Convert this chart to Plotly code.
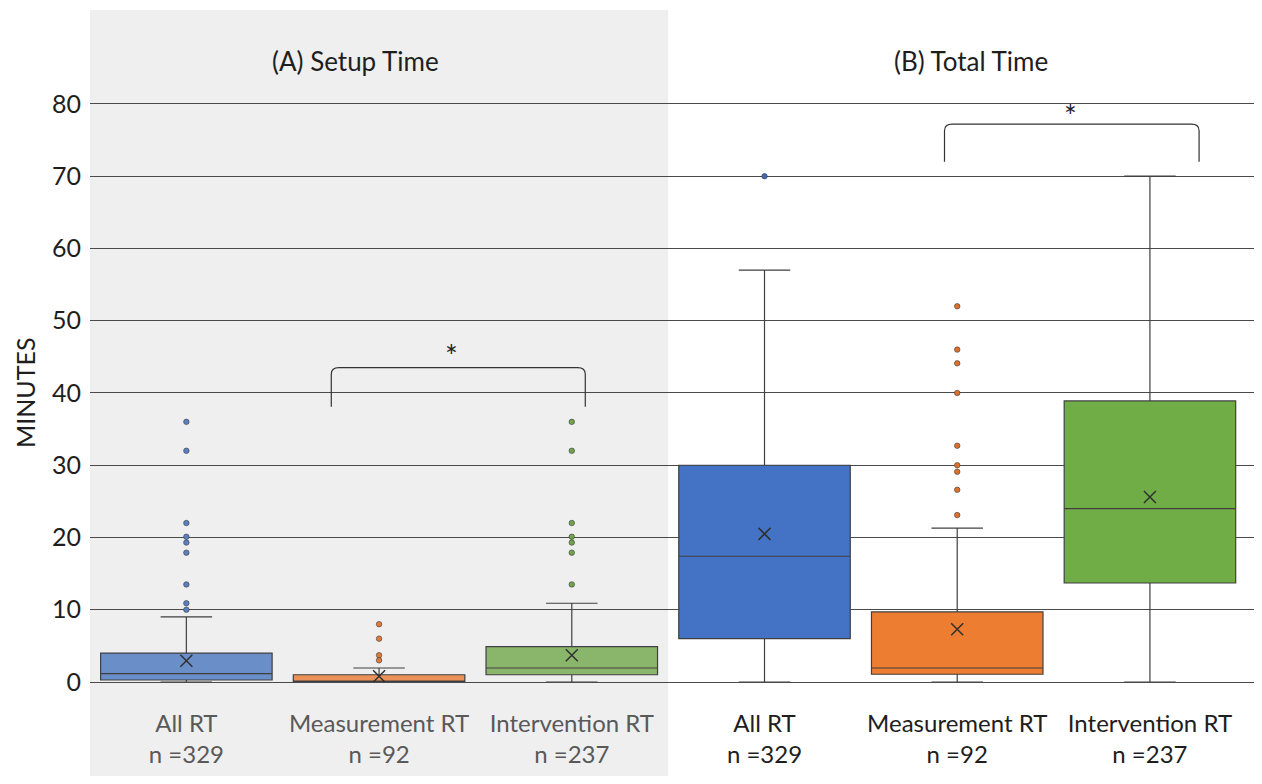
import plotly.graph_objects as go

# ---------------- data ----------------
positions = [0, 1, 2, 3, 4, 5]
groups = ["All RT", "Measurement RT", "Intervention RT"] * 2
n_labels = ["n =329", "n =92", "n =237"] * 2
panels = ["(A) Setup Time", "(B) Total Time"]

q1 = [0.28, 0.0, 1.0, 6.0, 1.07, 13.7]
median = [1.15, 0.05, 1.94, 17.4, 1.94, 24.0]
q3 = [4.0, 1.0, 4.9, 30.0, 9.7, 38.9]
lower_fence = [0.0, 0.0, 0.0, 0.0, 0.0, 0.0]
upper_fence = [9.0, 1.94, 10.9, 57.0, 21.3, 70.0]
means = [2.95, 0.8, 3.7, 20.5, 7.3, 25.6]

outliers = [
    [36, 32, 22, 20.1, 19.3, 17.9, 13.5, 10.9, 10.0],
    [8.0, 6.0, 3.7, 3.0],
    [36, 32, 22, 20.1, 19.3, 17.9, 13.5],
    [70],
    [52.0, 46.0, 44.1, 40.0, 32.7, 30.0, 29.1, 26.6, 23.1],
    [],
]

fill_colors = ["#6a8ec8", "#ea9257", "#8ab66c", "#4472c4", "#ed7d31", "#70ad47"]
point_colors = ["#5b7fbf", "#e07a3a", "#6fa34c", "#3d68b5", "#e07028", "#62a03c"]

tick_values = [0, 10, 20, 30, 40, 50, 60, 70, 80]

# significance brackets: (x_left, x_right, y_top, y_bottom, star_x, star_y)
brackets = [(0.752, 2.07, 43.5, 38.1, 1.375, 45.2),
            (3.934, 5.255, 77.2, 72.0, 4.59, 78.5)]

FONT = "Lato, 'Open Sans', sans-serif"
EDGE = "#404040"

fig = go.Figure()

for i, p in enumerate(positions):
    fig.add_trace(go.Box(
        x=[p], q1=[q1[i]], median=[median[i]], q3=[q3[i]],
        lowerfence=[lower_fence[i]], upperfence=[upper_fence[i]],
        width=0.89, whiskerwidth=0.3,
        fillcolor=fill_colors[i],
        line=dict(color=EDGE, width=1.2),
        boxpoints=False, showlegend=False, hoverinfo="skip",
    ))
    if outliers[i]:
        fig.add_trace(go.Scatter(
            x=[p] * len(outliers[i]), y=outliers[i], mode="markers",
            marker=dict(size=5.5, color=point_colors[i],
                        line=dict(color="#3a3a3a", width=0.6)),
            showlegend=False, hoverinfo="skip",
        ))
    fig.add_trace(go.Scatter(
        x=[p], y=[means[i]], mode="markers",
        marker=dict(symbol="x-thin", size=12,
                    line=dict(color="#303030", width=1.5)),
        showlegend=False, hoverinfo="skip",
    ))

# tick labels: left panel grey, right panel near-black
ticktext = []
for i, p in enumerate(positions):
    col = "#595959" if p < 3 else "#1e1e1e"
    ticktext.append(f"<span style='color:{col}'>{groups[i]}<br>{n_labels[i]}</span>")

W, H = 1246, 768
ML, MR, MT, MB = 82, 0, 2, 94
plot_w = W - ML - MR
plot_h = H - MT - MB

shapes = [
    dict(type="rect", xref="x", yref="paper", x0=-0.5, x1=2.5,
         y0=-MB / plot_h, y1=1.0,
         fillcolor="#efefef", line=dict(width=0), layer="below"),
]
annotations = []
for (xl, xr, yt, yb, sx, sy) in brackets:
    r = 0.04
    rv = 0.9
    path = (f"M {xl},{yb} L {xl},{yt - rv} Q {xl},{yt} {xl + r},{yt} "
            f"L {xr - r},{yt} Q {xr},{yt} {xr},{yt - rv} L {xr},{yb}")
    shapes.append(dict(type="path", xref="x", yref="y", path=path,
                       line=dict(color="#333333", width=1.2)))
    annotations.append(dict(x=sx, y=sy, xref="x", yref="y", text="*",
                            showarrow=False, yanchor="middle",
                            font=dict(size=30, color="#222", family=FONT)))

annotations.append(dict(x=0.88, y=85.95, xref="x", yref="y", text=panels[0],
                        showarrow=False, font=dict(size=26, color="#1e1e1e", family=FONT)))
annotations.append(dict(x=4.07, y=85.95, xref="x", yref="y", text=panels[1],
                        showarrow=False, font=dict(size=26, color="#1e1e1e", family=FONT)))
annotations.append(dict(x=(25 - 90) / plot_w, y=40, xref="paper", yref="y",
                        xanchor="center", text="MINUTES", textangle=-90,
                        showarrow=False,
                        font=dict(size=25, color="#1e1e1e", family=FONT)))

fig.update_layout(
    width=W, height=H,
    margin=dict(l=ML, r=MR, t=MT, b=MB),
    paper_bgcolor="white", plot_bgcolor="rgba(0,0,0,0)",
    boxmode="overlay",
    shapes=shapes, annotations=annotations,
    font=dict(family=FONT, color="#1e1e1e"),
    xaxis=dict(range=[-0.5, 5.54], tickvals=positions, ticktext=ticktext,
               showgrid=False, zeroline=False, showline=False, ticks="",
               tickfont=dict(size=24, family=FONT), ticklabelstandoff=25),
    yaxis=dict(range=[0, 93.0], tickvals=tick_values, showgrid=True,
               gridcolor="#4a4a4a", gridwidth=1, zeroline=True,
               zerolinecolor="#4a4a4a", zerolinewidth=1.2, showline=False,
               ticks="", tickfont=dict(size=25, family=FONT, color="#1e1e1e"),
               ticklabelstandoff=8),
)

fig.write_html("out.html")
